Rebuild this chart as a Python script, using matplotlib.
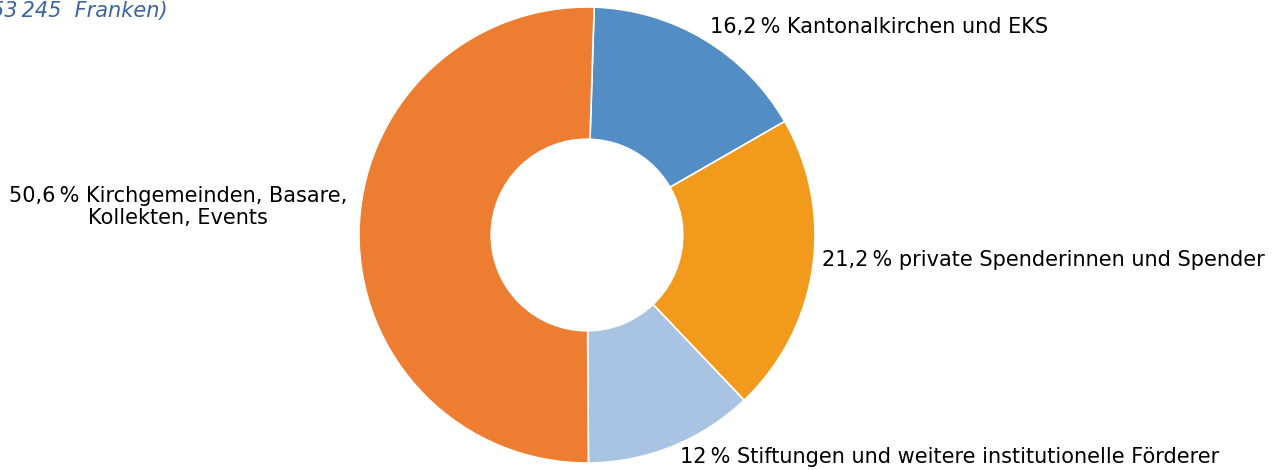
import matplotlib.pyplot as plt

shares = [16.2, 21.2, 12.0, 50.6]
labels = ["16,2\u2009% Kantonalkirchen und EKS",
          "21,2\u2009% private Spenderinnen und Spender",
          "12\u2009% Stiftungen und weitere institutionelle Förderer",
          "50,6\u2009% Kirchgemeinden, Basare,\nKollekten, Events"]
colors = ["#538DC5", "#F29A1B", "#A9C3E3", "#ED7D31"]

W, H = 1280, 470
fig = plt.figure(figsize=(W / 100, H / 100), dpi=100)
plt.rcParams['font.family'] = ['DejaVu Sans']

cx, cy, r = 587, 235, 228
ax = fig.add_axes([(cx - r) / W, (H - cy - r) / H, 2 * r / W, 2 * r / H])
ax.pie(shares, colors=colors, startangle=88.2, counterclock=False, radius=1,
       wedgeprops=dict(width=0.58, edgecolor="white", linewidth=1.2))
ax.set_xlim(-1, 1)
ax.set_ylim(-1, 1)
ax.set_aspect("equal")
ax.axis("off")

fs = 15
fig.text(710 / W, 1 - 27 / H, labels[0], fontsize=fs, ha="left", va="center")
fig.text(822 / W, 1 - 260 / H, labels[1], fontsize=fs, ha="left", va="center")
fig.text(680 / W, 1 - 457 / H, labels[2], fontsize=fs, ha="left", va="center")
fig.text(178 / W, 1 - 207 / H, labels[3], fontsize=fs, ha="center", va="center",
         multialignment="center", linespacing=1.15)
fig.text(168 / W, 1 - 11 / H, "53\u2009245  Franken)", fontsize=15, ha="right",
         va="center", style="italic", color="#3B64A0")

fig.savefig("out.png", dpi=100)
